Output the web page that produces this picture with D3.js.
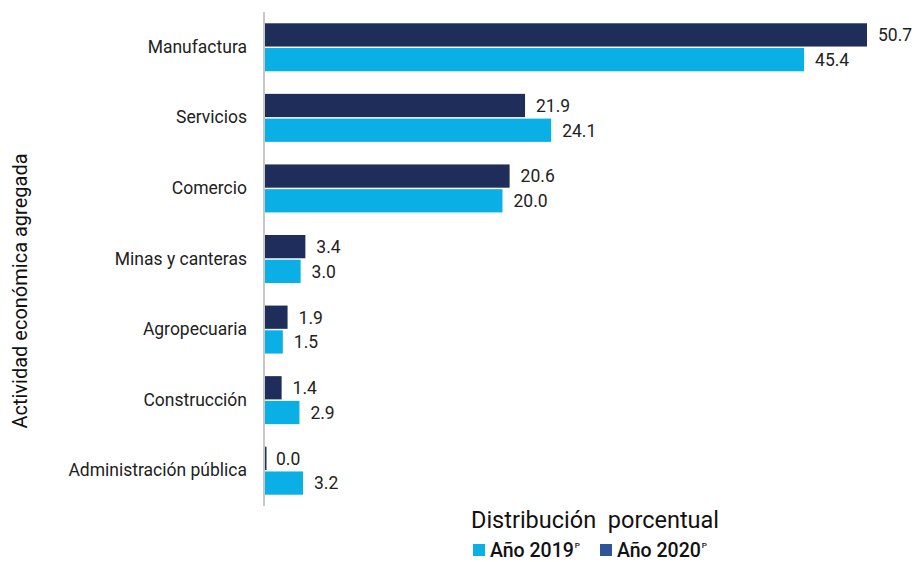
<!DOCTYPE html>
<html><head><meta charset="utf-8">
<script src="https://cdn.jsdelivr.net/npm/d3@7"></script>
<style>body{margin:0;background:#fff;} text{font-family:Roboto,"Noto Sans",sans-serif;}</style>
</head><body><svg id="c" width="916" height="562"></svg>
<script>
const categories = ["Manufactura","Servicios","Comercio","Minas y canteras","Agropecuaria","Construcción","Administración pública"];
const values2020 = [50.7,21.9,20.6,3.4,1.9,1.4,0.0];
const values2019 = [45.4,24.1,20.0,3.0,1.5,2.9,3.2];
const seriesNames = ["Año 2020","Año 2019"];
const colDark = "#1e2d5a", colLight = "#0aafe6", legendDark = "#2e5597";

const svg = d3.select("#c");
const x0 = 265;
const x = d3.scaleLinear().domain([0,50.7]).range([x0,867]);
const y = d3.scaleBand().domain(categories).range([12,506]).paddingInner(0.32).paddingOuter(0.16);
const yi = d3.scaleBand().domain(seriesNames).range([0,y.bandwidth()]).paddingInner(0.06);

const data = categories.map((c,i)=>({c, v:[values2020[i],values2019[i]]}));
const g = svg.append("g");
data.forEach(d=>{
  seriesNames.forEach((s,j)=>{
    const yy = y(d.c)+yi(s);
    g.append("rect").attr("x",x(0)).attr("y",yy).attr("width",Math.max(x(d.v[j])-x(0),1.5))
     .attr("height",yi.bandwidth()).attr("fill",j===0?colDark:colLight);
    g.append("text").attr("x",x(d.v[j])+11).attr("y",yy+yi.bandwidth()/2).attr("dy","0.36em")
     .attr("font-size",17.5).attr("fill","#222").text(d.v[j].toFixed(1));
  });
});

// axis
const ax = d3.axisLeft(y).tickSize(0).tickPadding(17);
const axg = svg.append("g").attr("transform",`translate(${x0-1},0)`).call(ax);
axg.select(".domain").attr("stroke","#c8c8c8").attr("stroke-width",2).attr("d","M0,12V506");
axg.selectAll("text").attr("font-size",17.5).attr("fill","#222").style("font-family","Roboto,sans-serif");

svg.append("text").attr("transform","translate(27,291) rotate(-90)").attr("text-anchor","middle")
 .attr("font-size",20).attr("fill","#111").text("Actividad económica agregada");
svg.append("text").attr("x",595).attr("y",528).attr("text-anchor","middle")
 .attr("font-size",23.5).attr("fill","#111").attr("xml:space","preserve").text("Distribución  porcentual");

// legend
const leg = [{n:"Año 2019",c:colLight,x:473},{n:"Año 2020",c:legendDark,x:600}];
leg.forEach(l=>{
  svg.append("rect").attr("x",l.x).attr("y",544).attr("width",12).attr("height",12).attr("fill",l.c);
  const t = svg.append("text").attr("x",l.x+17).attr("y",557).attr("font-size",19.5).attr("font-weight",500).attr("fill","#111");
  t.append("tspan").text(l.n);
  t.append("tspan").attr("font-size",8).attr("dy",-9).attr("dx",1).text("P");
});
</script></body></html>
